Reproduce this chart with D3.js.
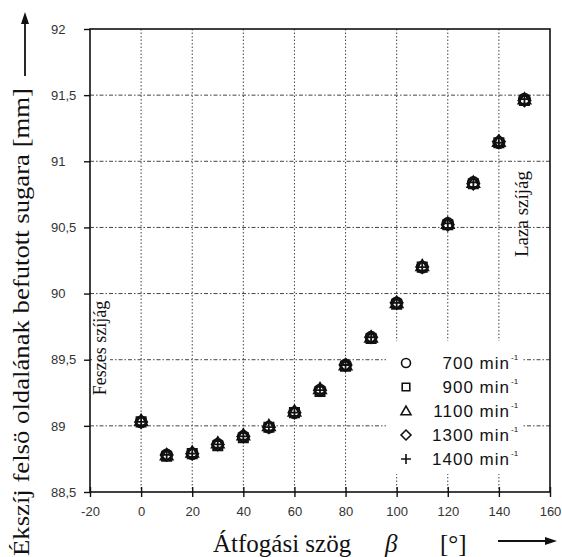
<!DOCTYPE html>
<html><head><meta charset="utf-8">
<script src="https://cdn.jsdelivr.net/npm/d3@7"></script>
<style>
body{margin:0;background:#fff;}
svg{display:block;}
</style></head>
<body>
<svg id="c" width="562" height="557"></svg>
<script>
const beta = [0,10,20,30,40,50,60,70,80,90,100,110,120,130,140,150];
const r700  = [89.03,88.78,88.79,88.86,88.92,88.99,89.10,89.27,89.46,89.67,89.93,90.20,90.53,90.84,91.14,91.47];
const r900  = [89.03,88.77,88.79,88.85,88.91,88.99,89.10,89.26,89.45,89.66,89.92,90.20,90.52,90.83,91.14,91.46];
const r1100 = [89.04,88.78,88.80,88.87,88.93,89.00,89.11,89.28,89.46,89.67,89.93,90.21,90.53,90.84,91.15,91.47];
const r1300 = [89.03,88.78,88.79,88.86,88.92,88.99,89.10,89.27,89.46,89.67,89.93,90.20,90.52,90.83,91.15,91.46];
const r1400 = [89.03,88.78,88.79,88.86,88.92,88.99,89.10,89.27,89.46,89.67,89.93,90.20,90.53,90.84,91.14,91.47];
const seriesNames = ["700","900","1100","1300","1400"];
const seriesVals = [r700,r900,r1100,r1300,r1400];
const seriesShapes = ["circle","square","triangle","diamond","plus"];
const xTicks = [-20,0,20,40,60,80,100,120,140,160];
const yTicks = [88.5,89,89.5,90,90.5,91,91.5,92];
const xGrid = [0,20,40,60,80,100,120,140];
const yGrid = [89,89.5,90,90.5,91,91.5];

const svg = d3.select("#c");
const x = d3.scaleLinear().domain([-20,160]).range([90,550]);
const y = d3.scaleLinear().domain([88.5,92]).range([492,29]);
const ink = "#111";

// grid
svg.append("g").selectAll("line").data(xGrid).join("line")
  .attr("x1",d=>x(d)).attr("x2",d=>x(d)).attr("y1",y(92)).attr("y2",y(88.5))
  .attr("stroke","#444").attr("stroke-width",1).attr("stroke-dasharray","1.5,2");
svg.append("g").selectAll("line").data(yGrid).join("line")
  .attr("x1",x(-20)).attr("x2",x(160)).attr("y1",d=>y(d)).attr("y2",d=>y(d))
  .attr("stroke","#444").attr("stroke-width",1).attr("stroke-dasharray","4,2,1.5,2");

// legend background
svg.append("rect").attr("x",386).attr("y",341).attr("width",136).attr("height",133).attr("fill","#fff");
// side label backgrounds
svg.append("rect").attr("x",92).attr("y",296).attr("width",18).attr("height",104).attr("fill","#fff");

// frame
svg.append("rect").attr("x",x(-20)).attr("y",y(92)).attr("width",x(160)-x(-20)).attr("height",y(88.5)-y(92))
  .attr("fill","none").attr("stroke",ink).attr("stroke-width",1.6);

// y axis
const ya = svg.append("g").attr("transform",`translate(${x(-20)},0)`)
  .call(d3.axisLeft(y).tickValues(yTicks).tickSize(6).tickFormat(d=>String(d).replace(".",",")));
ya.select(".domain").remove();
ya.selectAll(".tick line").attr("stroke",ink).attr("stroke-width",1.4);
ya.selectAll(".tick text").attr("x",51-x(-20)).attr("text-anchor","start")
  .attr("font-family","Liberation Sans, Arial, sans-serif").attr("font-size",13).attr("fill","#333");

// x axis
const xa = svg.append("g").attr("transform",`translate(0,${y(88.5)})`)
  .call(d3.axisBottom(x).tickValues(xTicks).tickSize(5).tickFormat(d=>d));
xa.select(".domain").remove();
xa.selectAll(".tick line").attr("y1",-5).attr("stroke",ink).attr("stroke-width",1.4);
xa.selectAll(".tick text").attr("y",15)
  .attr("font-family","Liberation Sans, Arial, sans-serif").attr("font-size",13).attr("fill","#333");

// markers
function shapePath(shape, s){
  if(shape==="circle"){ return d3.symbol().type(d3.symbolCircle).size(Math.PI*s*s*0.25)(); }
  if(shape==="square"){ const h=s*0.42; return `M${-h},${-h}H${h}V${h}H${-h}Z`; }
  if(shape==="triangle"){ const h=s*0.55; return `M0,${-h}L${h},${h*0.75}L${-h},${h*0.75}Z`; }
  if(shape==="diamond"){ const h=s*0.55; return `M0,${-h}L${h},0L0,${h}L${-h},0Z`; }
  const h=s*0.55; return `M${-h},0H${h}M0,${-h}V${h}`;
}
seriesVals.forEach((vals,i)=>{
  const shape = seriesShapes[i];
  svg.append("g").selectAll("path").data(beta.map((b,j)=>({b,v:vals[j]}))).join("path")
    .attr("transform",d=>`translate(${x(d.b)},${y(d.v)})`)
    .attr("d",shapePath(shape,11))
    .attr("fill","none").attr("stroke",ink).attr("stroke-width",1.8);
});

// legend
const lg = svg.append("g");
seriesNames.forEach((n,i)=>{
  const yy = 363 + i*24;
  const shape = seriesShapes[i];
  lg.append("path").attr("transform",`translate(406,${yy})`).attr("d",shapePath(shape,9))
    .attr("fill","none").attr("stroke",ink).attr("stroke-width",1.6);
  lg.append("text").attr("x",510).attr("y",yy+6).attr("text-anchor","end")
    .attr("font-family","Liberation Sans, Arial, sans-serif").attr("font-size",17).attr("letter-spacing",1).attr("fill",ink)
    .text(n+" min");
  lg.append("text").attr("x",511).attr("y",yy-3).attr("font-family","Liberation Sans, Arial, sans-serif")
    .attr("font-size",8).attr("fill",ink).text("-1");
});

// side labels
svg.append("text").attr("transform","translate(106,348) rotate(-90)").attr("text-anchor","middle")
  .attr("font-family","Liberation Serif, Times New Roman, serif").attr("font-size",18).attr("fill",ink).text("Feszes szíjág");
svg.append("text").attr("transform","translate(528,214) rotate(-90)").attr("text-anchor","middle")
  .attr("font-family","Liberation Serif, Times New Roman, serif").attr("font-size",19).attr("fill",ink).text("Laza szíjág");

// y title
svg.append("text").attr("transform","translate(29,322) rotate(-90)").attr("text-anchor","middle")
  .attr("font-family","Liberation Serif, Times New Roman, serif").attr("font-size",24).attr("fill",ink)
  .attr("textLength",468).attr("lengthAdjust","spacingAndGlyphs")
  .text("Ékszíj felsö oldalának befutott sugara [mm]");
// y arrow
svg.append("line").attr("x1",25).attr("x2",25).attr("y1",76).attr("y2",20).attr("stroke",ink).attr("stroke-width",1.8);
svg.append("path").attr("d","M25,12 L21,24 L29,24 Z").attr("fill",ink);

// x title
const xt = svg.append("text").attr("y",552).attr("font-family","Liberation Serif, Times New Roman, serif").attr("font-size",25).attr("fill",ink);
xt.append("tspan").attr("x",213).text("Átfogási szög");
xt.append("tspan").attr("x",385).attr("font-style","italic").text("β");
xt.append("tspan").attr("x",440).text("[°]");
// x arrow
svg.append("line").attr("x1",498).attr("x2",548).attr("y1",541).attr("y2",541).attr("stroke",ink).attr("stroke-width",1.8);
svg.append("path").attr("d","M557,541 L545,537 L545,545 Z").attr("fill",ink);
</script>
</body></html>
